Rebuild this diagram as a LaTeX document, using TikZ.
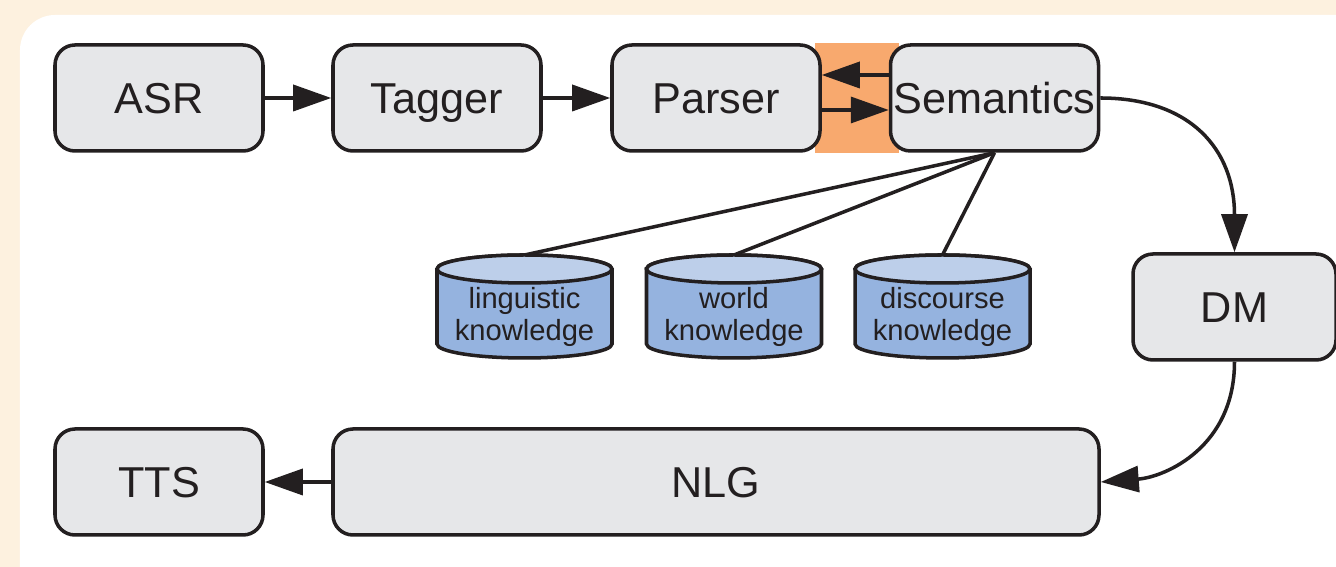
\documentclass[tikz,border=0pt]{standalone}
\usepackage{fontspec}
\setmainfont{Liberation Sans}
\usetikzlibrary{arrows.meta, backgrounds}
\definecolor{cream}{HTML}{FDF1DF}
\definecolor{ink}{HTML}{231F20}
\definecolor{boxgrey}{HTML}{E6E7E9}
\definecolor{kbody}{HTML}{95B3DF}
\definecolor{ktop}{HTML}{BDCFEA}
\definecolor{hilite}{HTML}{F8A96E}

\begin{document}
\begin{tikzpicture}[
  box/.style={draw=ink, fill=boxgrey, line width=1pt, rounded corners=0.2cm, minimum width=2.08cm, minimum height=1.06cm, inner sep=0pt, text height=8.8pt, text depth=0pt, text=ink, font=\fontsize{12.3}{14}\selectfont},
  storetext/.style={inner sep=0pt, align=center, text=ink, font=\fontsize{8.3}{9.1}\selectfont},
  arr/.style={draw=ink, line width=1pt, -{Triangle[length=0.38cm, width=0.26cm]}},
  link/.style={draw=ink, line width=1pt}]
\useasboundingbox (0,0) rectangle (13.36,-5.67);
% Pipeline, top row
\node[box] (asr) at (1.59,-0.98) {ASR};
\node[box] (tagger) at (4.37,-0.98) {Tagger};
\node[box] (parser) at (7.16,-0.98) {Parser};
\node[box] (sem) at (9.945,-0.98) {Semantics};
% Dialogue manager and output
\node[box, minimum width=2.03cm] (dm) at (12.345,-3.07) {DM};
\node[box, minimum width=7.66cm] (nlg) at (7.16,-4.82) {NLG};
\node[box] (tts) at (1.59,-4.82) {TTS};
% Knowledge stores (cylinders)
\foreach \n/\x in {ling/5.245, world/7.34, disc/9.425} {
  \filldraw[draw=ink, fill=kbody, line width=1pt] (\x-0.875,-2.69) -- (\x-0.875,-3.44)
    arc[start angle=180, end angle=360, x radius=0.875, y radius=0.14] -- (\x+0.875,-2.69)
    arc[start angle=0, end angle=180, x radius=0.875, y radius=0.14] -- cycle;
  \filldraw[draw=ink, fill=ktop, line width=1pt] (\x,-2.69) ellipse[x radius=0.875, y radius=0.14];
  \coordinate (\n-top) at (\x,-2.55);
}
\node[storetext] (ling) at (5.245,-3.17) {linguistic\\knowledge};
\node[storetext] (world) at (7.34,-3.17) {world\\knowledge};
\node[storetext] (disc) at (9.425,-3.17) {discourse\\knowledge};
% Background and highlight
\begin{scope}[on background layer]
\fill[cream] (0,0) rectangle (13.36,-5.67);
\fill[white, rounded corners=0.35cm] (0.2,-0.15) rectangle (14,-6.5);
\fill[hilite] ([xshift=-0.07cm]parser.north east) rectangle ([xshift=0.1cm]sem.south west);
\end{scope}
% Connectors
\draw[arr] (asr) -- (tagger);
\draw[arr] (tagger) -- (parser);
\draw[arr] ([yshift=0.23cm]sem.west) -- ([yshift=0.23cm]parser.east);
\draw[arr] ([yshift=-0.12cm]parser.east) -- ([yshift=-0.12cm]sem.west);
\draw[arr] (sem.east) .. controls +(0.9,0) and +(0,1.03) .. (dm.north);
\draw[arr] (dm.south) .. controls +(0,-0.85) and +(0.65,0.05) .. (nlg.east);
\draw[arr] (nlg) -- (tts);
\foreach \k in {ling, world, disc} { \draw[link] (sem.south) -- (\k-top); }
\end{tikzpicture}
\end{document}
